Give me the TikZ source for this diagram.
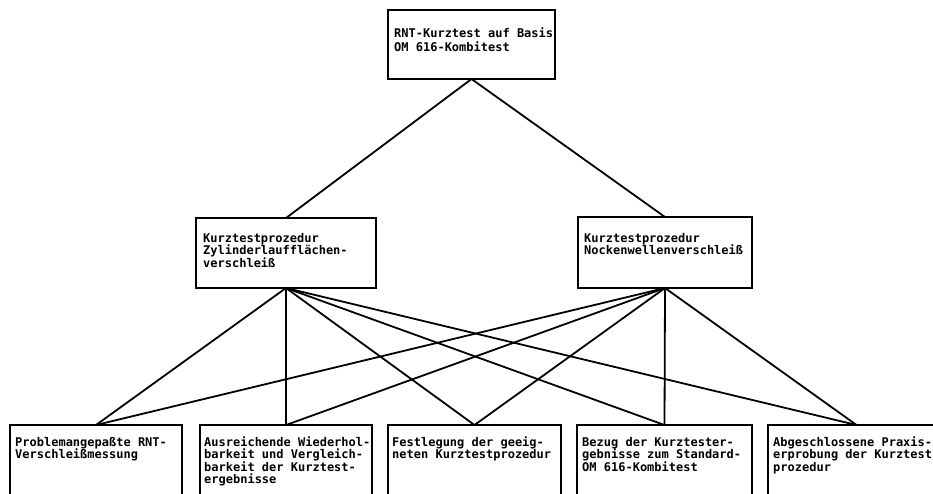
\documentclass[tikz,border=0pt]{standalone}
\usepackage{fontspec}
\newfontfamily\tw{DejaVu Sans Mono}
\newcommand\boxtext[1]{\vtop{\tw\bfseries\fontsize{12pt}{12.5pt}\selectfont\baselineskip=12.5pt\halign{##\hfil\cr#1\crcr}}}
\newcommand\boxtextb[1]{\vtop{\tw\bfseries\fontsize{12pt}{14pt}\selectfont\baselineskip=14pt\halign{##\hfil\cr#1\crcr}}}
\begin{document}
\begin{tikzpicture}[x=1pt,y=-1pt,
  frame/.style={draw,line width=2.6pt,anchor=north west,inner sep=0pt,outer sep=0pt},
  txt/.style={anchor=base west,inner sep=0pt},
  link/.style={line width=1.8pt}]
\useasboundingbox (0,0) rectangle (933,493);
\clip (0,0) rectangle (933,493);
% boxes
\node[frame,minimum width=167pt,minimum height=69pt] (top) at (388,10) {};
\node[frame,minimum width=180pt,minimum height=70pt] (ml) at (196,218) {};
\node[frame,minimum width=174pt,minimum height=71pt] (mr) at (578,217) {};
\node[frame,minimum width=172pt,minimum height=90pt] (b1) at (10,425) {};
\node[frame,minimum width=172pt,minimum height=90pt] (b2) at (200,425) {};
\node[frame,minimum width=173pt,minimum height=90pt] (b3) at (388,425) {};
\node[frame,minimum width=175pt,minimum height=90pt] (b4) at (577,425) {};
\node[frame,minimum width=177pt,minimum height=90pt] (b5) at (768,425) {};
% texts
\node[txt] (ttop) at (394,37) {\boxtextb{RNT-Kurztest auf Basis\cr OM 616-Kombitest}};
\node[txt] (tml) at (203,242) {\boxtext{Kurztestprozedur\cr Zylinderlaufflächen-\cr verschleiß}};
\node[txt] (tmr) at (584,242) {\boxtext{Kurztestprozedur\cr Nockenwellenverschleiß}};
\node[txt] (tb1) at (15,446) {\boxtext{Problemangepaßte RNT-\cr Verschleißmessung}};
\node[txt] (tb2) at (204,446) {\boxtext{Ausreichende Wiederhol-\cr barkeit und Vergleich-\cr barkeit der Kurztest-\cr ergebnisse}};
\node[txt] (tb3) at (392,446) {\boxtext{Festlegung der geeig-\cr neten Kurztestprozedur}};
\node[txt] (tb4) at (582,446) {\boxtext{Bezug der Kurztester-\cr gebnisse zum Standard-\cr OM 616-Kombitest}};
\node[txt] (tb5) at (773,446) {\boxtext{Abgeschlossene Praxis-\cr erprobung der Kurztest\cr prozedur}};
% connectors
\draw[link] (top.south) -- (ml.north);
\draw[link] (top.south) -- (mr.north);
\foreach \b in {b1,b2,b3,b4,b5}{
  \draw[link] (ml.south) -- (\b.north);
  \draw[link] (mr.south) -- (\b.north);
}
\end{tikzpicture}
\end{document}
